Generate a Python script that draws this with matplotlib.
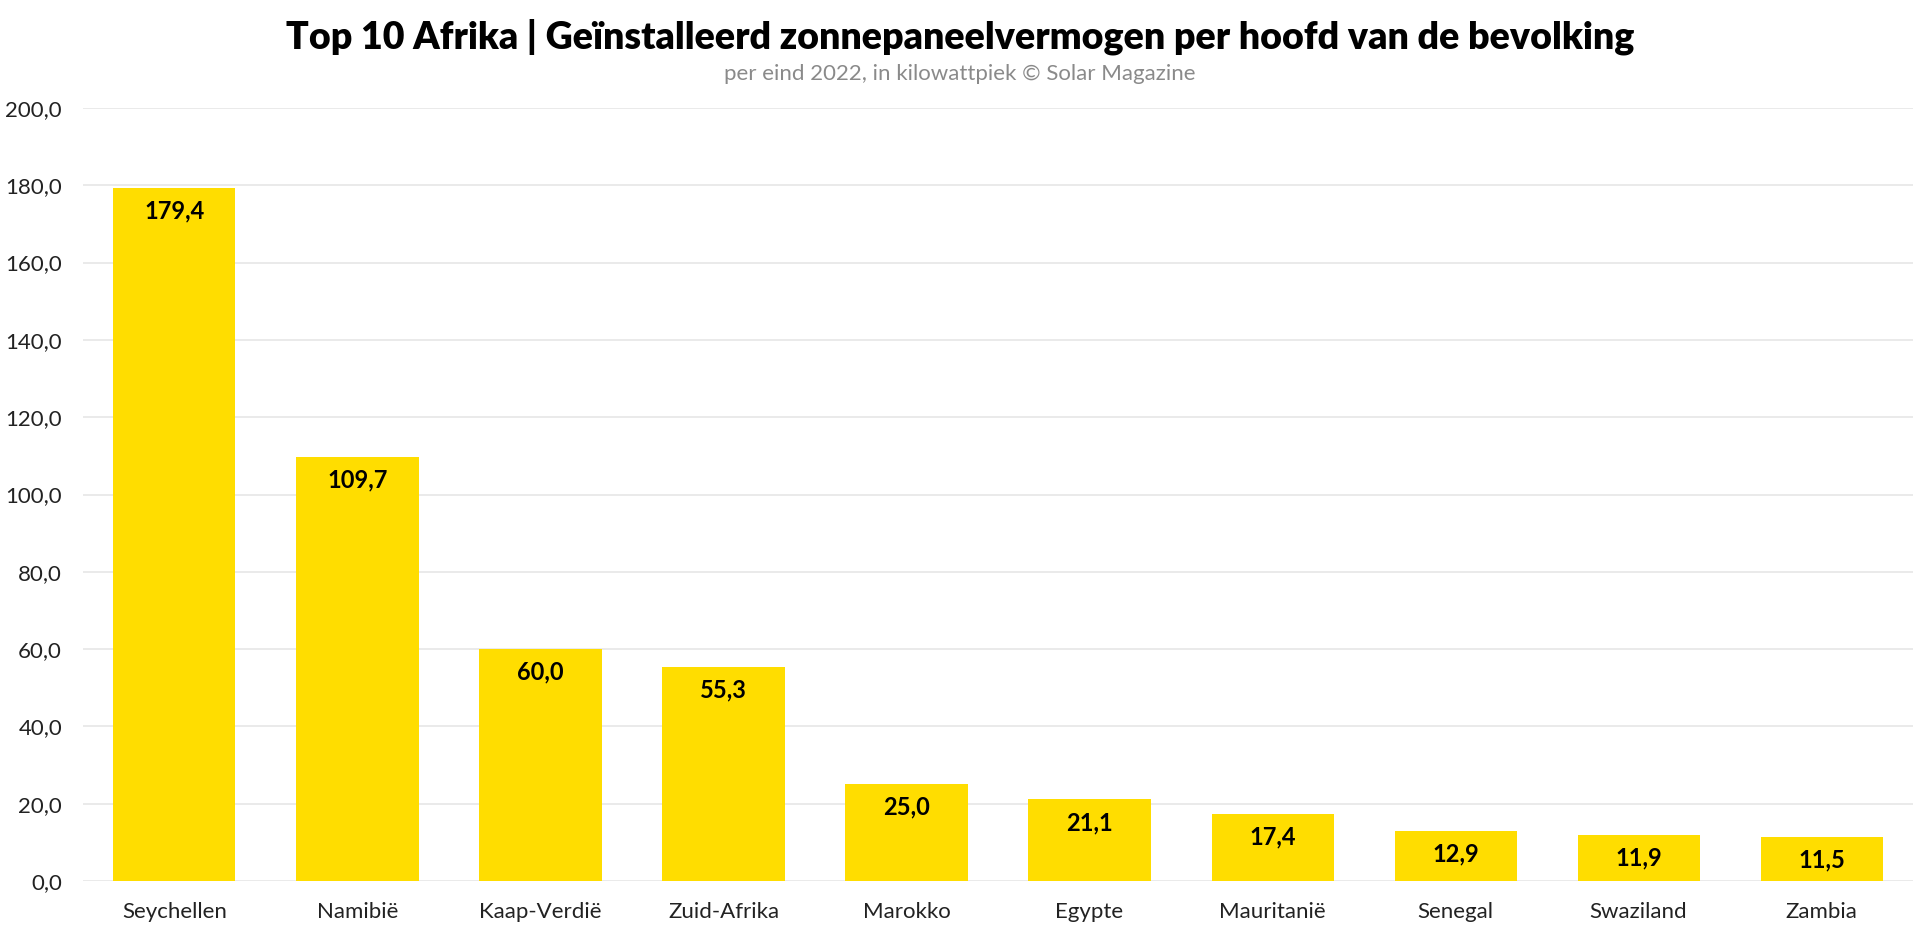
import matplotlib.pyplot as plt
from matplotlib.ticker import FuncFormatter

landen = ["Seychellen", "Namibië", "Kaap-Verdië", "Zuid-Afrika", "Marokko",
          "Egypte", "Mauritanië", "Senegal", "Swaziland", "Zambia"]
vermogen = [179.4, 109.7, 60.0, 55.3, 25.0, 21.1, 17.4, 12.9, 11.9, 11.5]

titel = "Top 10 Afrika | Geïnstalleerd zonnepaneelvermogen per hoofd van de bevolking"
ondertitel = "per eind 2022, in kilowattpiek © Solar Magazine"

plt.rcParams['font.family'] = ['Lato', 'DejaVu Sans']

fig = plt.figure(figsize=(19.2, 9.34), dpi=100)
ax = fig.add_axes([0.0432, 0.0567, 0.9532, 0.8277])

x = range(len(landen))
staven = ax.bar(x, vermogen, width=0.667, color="#FFDD00", zorder=2)

# waarden in de staven, net onder de bovenkant
for s, v in zip(staven, vermogen):
    ax.annotate(f"{v:.1f}".replace(".", ","),
                (s.get_x() + s.get_width() / 2, v),
                xytext=(0, -23), textcoords="offset pixels",
                ha="center", va="center", fontsize=17, fontweight="bold", color="black")

ax.set_xlim(-0.5, len(landen) - 0.5)
ax.set_ylim(0, 200)
ax.set_yticks(range(0, 201, 20))
ax.yaxis.set_major_formatter(FuncFormatter(lambda v, p: f"{v:.1f}".replace(".", ",")))
ax.set_xticks(list(x))
ax.set_xticklabels(landen)
ax.tick_params(axis="both", length=0, labelsize=16, colors="#222222")
ax.tick_params(axis="y", pad=15)
ax.tick_params(axis="x", pad=15)

ax.grid(axis="y", color="#e6e6e6", linewidth=1.2, zorder=0)
for kant in ax.spines.values():
    kant.set_visible(False)

fig.text(0.5, 0.961, titel, ha="center", va="center", fontsize=27, fontweight="heavy")
fig.text(0.5, 0.921, ondertitel, ha="center", va="center", fontsize=16, color="#8a8a8a")

fig.savefig("out.png", dpi=100)
